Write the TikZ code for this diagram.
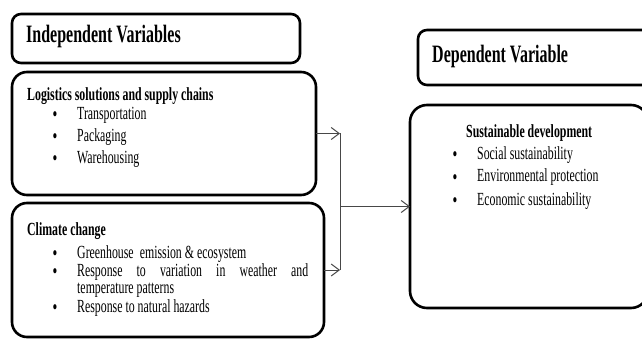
\documentclass[tikz,border=0pt]{standalone}
\usepackage{fontspec}
\setmainfont{Liberation Serif}[FakeStretch=0.64]
\usetikzlibrary{arrows.meta}
\tikzset{
  frame/.style={draw=black, line width=2.6pt, rounded corners=#1, fill=white, inner sep=0pt, outer sep=0pt},
  head/.style={anchor=base west, inner sep=0pt, font=\fontsize{25}{30}\selectfont\bfseries},
  sub/.style={anchor=base west, inner sep=0pt, font=\fontsize{18.5}{22}\selectfont\bfseries},
  txt/.style={anchor=base west, inner sep=0pt, font=\fontsize{18.5}{22}\selectfont},
  bul/.style={anchor=base, inner sep=0pt, font=\fontsize{19}{22}\selectfont\bfseries},
  conn/.style={draw=black!72, line width=1pt},
  arr/.style={conn, -{Straight Barb[length=8pt,width=12pt,line width=1pt]}}
}
\begin{document}
\begin{tikzpicture}[x=1pt,y=-1pt]
\path[use as bounding box, fill=white] (0,0) rectangle (642,339);

% boxes
\node[frame=9pt, minimum width=288pt, minimum height=49pt] (ivbox) at (156,38.5) {};
\node[frame=15pt, minimum width=304pt, minimum height=123pt] (logbox) at (164,133.5) {};
\node[frame=15pt, minimum width=312pt, minimum height=134pt] (climbox) at (168,270) {};
\node[frame=9pt, minimum width=234pt, minimum height=55pt] (dvbox) at (535,57.5) {};
\node[frame=17pt, minimum width=238pt, minimum height=203pt] (sdbox) at (529,206.5) {};

% texts
\node[head] (ivt) at (26,43) {Independent Variables};
\node[head] (dvt) at (432,62.5) {Dependent Variable};

\node[sub] (logt) at (27,101) {Logistics solutions and supply chains};
\node[bul] (lb1) at (55,121) {\textbullet};
\node[txt] (l1) at (77,120) {Transportation};
\node[bul] (lb2) at (55,143) {\textbullet};
\node[txt] (l2) at (77,142) {Packaging};
\node[bul] (lb3) at (55,165) {\textbullet};
\node[txt] (l3) at (77,164) {Warehousing};

\node[sub] (climt) at (27,235) {Climate change};
\node[bul] (cb1) at (55,259) {\textbullet};
\node[txt] (c1) at (77,258) {Greenhouse\, emission \& ecosystem};
\node[bul] (cb2) at (55,277) {\textbullet};
\node[txt] (c2) at (77,276) {\makebox[231pt][s]{Response to variation in weather and}};
\node[txt] (c2b) at (77,293) {temperature patterns};
\node[bul] (cb3) at (55,313) {\textbullet};
\node[txt] (c3) at (77,312) {Response to natural hazards};

\node[sub] (sdt) at (466,138) {Sustainable development};
\node[bul] (sb1) at (455,161) {\textbullet};
\node[txt] (s1) at (477,160) {Social sustainability};
\node[bul] (sb2) at (455,183) {\textbullet};
\node[txt] (s2) at (477,182) {Environmental protection};
\node[bul] (sb3) at (455,206) {\textbullet};
\node[txt] (s3) at (477,205) {Economic sustainability};

% connectors
\coordinate (j1) at (340,133.5);
\coordinate (j2) at (340,270);
\coordinate (jm) at (340,206.5);
\draw[arr] (logbox.east) -- (j1);
\draw[arr] (climbox.east) -- (j2);
\draw[conn] (j1) -- (j2);
\draw[arr] (jm) -- (sdbox.west);
\end{tikzpicture}
\end{document}
